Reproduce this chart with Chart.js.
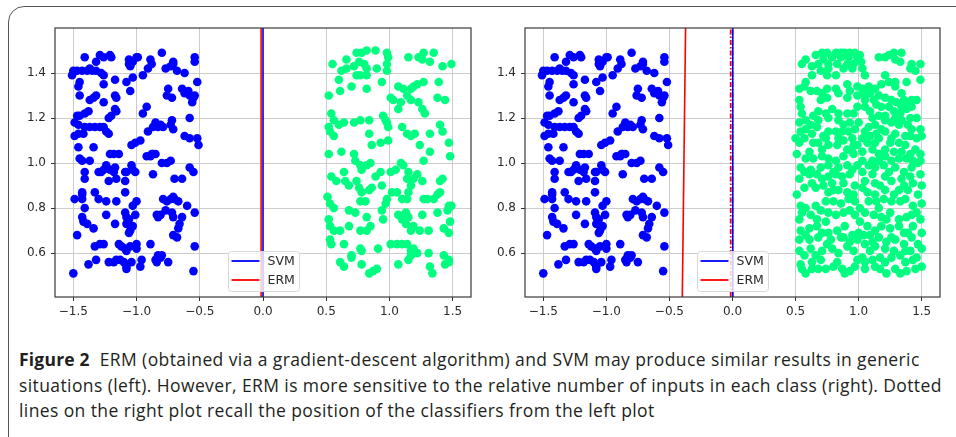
<!DOCTYPE html>
<html><head><meta charset="utf-8">
<script src="https://cdn.jsdelivr.net/npm/chart.js@4"></script>
<style>
html,body{margin:0;padding:0;background:#fff;width:956px;height:437px;overflow:hidden;position:relative}
#frame{position:absolute;left:8px;top:6px;width:1000px;height:470px;border:1.5px solid #555;border-radius:16px;box-sizing:border-box}
.plot{position:absolute;top:0}
#c1{left:0}
#c2{left:476px}
#cap{position:absolute;left:19px;top:347px;font-family:"Open Sans",sans-serif;font-size:17.5px;letter-spacing:0.4px;line-height:25.5px;color:#231f20;white-space:nowrap}
#cap b{font-weight:700;letter-spacing:0.2px}
</style></head>
<body>
<div id="frame"></div>
<canvas id="c1" class="plot" width="478" height="330"></canvas>
<canvas id="c2" class="plot" width="470" height="330"></canvas>
<div id="cap"><b>Figure 2</b>&nbsp; ERM (obtained via a gradient-descent algorithm) and SVM may produce similar results in generic<br>situations (left). However, ERM is more sensitive to the relative number of inputs in each class (right). Dotted<br>lines on the right plot recall the position of the classifiers from the left plot</div>
<script>
// ---- axes ----
const xRange = [-1.645, 1.645];
const yRange = [0.405, 1.600];
const xTickValues = [-1.5, -1.0, -0.5, 0.0, 0.5, 1.0, 1.5];
const xTickLabels = ['\u22121.5', '\u22121.0', '\u22120.5', '0.0', '0.5', '1.0', '1.5'];
const yTickValues = [0.6, 0.8, 1.0, 1.2, 1.4];
const yTickLabels = ['0.6', '0.8', '1.0', '1.2', '1.4'];
const legendLabels = ['SVM', 'ERM'];

// ---- classifiers (x positions of the separating lines) ----
const svmLeftX = 0.0;
const ermLeftX = -0.015;
const svmRightX = 0.002;
const ermRightX = [-0.398, -0.372]; // at bottom, at top of the axis

// ---- class -1 (blue): same points in both plots ----
const blueClass = [
[-1.41,1.47],[-1.29,1.48],[-1.26,1.47],[-1.21,1.48],[-1.20,1.47],[-1.32,1.45],[-1.37,1.42],[-1.50,1.41],
[-1.51,1.39],[-1.47,1.41],[-1.43,1.41],[-1.39,1.41],[-1.35,1.41],[-1.32,1.41],[-1.28,1.40],[-1.26,1.39],
[-1.06,1.46],[-1.05,1.43],[-1.03,1.45],[-1.00,1.47],[-1.06,1.44],[-0.99,1.47],[-0.89,1.46],[-0.88,1.44],
[-0.91,1.42],[-0.95,1.39],[-0.80,1.49],[-0.77,1.42],[-0.73,1.43],[-0.71,1.44],[-0.68,1.41],[-0.71,1.45],
[-0.54,1.47],[-0.54,1.45],[-0.62,1.40],[-0.52,1.36],[-1.45,1.36],[-1.46,1.34],[-1.45,1.30],[-1.34,1.29],
[-1.37,1.28],[-1.32,1.30],[-1.26,1.35],[-1.17,1.37],[-1.08,1.36],[-1.05,1.32],[-1.03,1.38],[-0.75,1.33],
[-0.76,1.30],[-0.72,1.29],[-0.64,1.33],[-0.62,1.31],[-0.59,1.32],[-0.58,1.30],[-0.55,1.29],[-0.56,1.27],
[-0.54,1.30],[-1.17,1.30],[-1.16,1.29],[-1.26,1.27],[-0.92,1.25],[-0.95,1.22],[-1.47,1.21],[-1.45,1.21],
[-1.41,1.22],[-1.38,1.23],[-1.22,1.20],[-1.20,1.21],[-1.17,1.24],[-1.16,1.23],[-0.58,1.20],[-1.46,1.17],
[-1.49,1.18],[-1.41,1.16],[-1.37,1.16],[-1.33,1.16],[-1.29,1.16],[-1.26,1.16],[-1.24,1.14],[-1.22,1.13],
[-1.42,1.13],[-1.46,1.13],[-1.49,1.12],[-0.85,1.18],[-0.83,1.16],[-0.81,1.17],[-0.79,1.16],[-0.73,1.17],
[-0.72,1.19],[-0.71,1.15],[-0.91,1.14],[-0.87,1.16],[-0.62,1.12],[-0.58,1.11],[-0.52,1.11],[-0.51,1.08],
[-1.46,1.07],[-1.45,1.02],[-1.43,1.01],[-1.37,1.01],[-1.34,1.07],[-1.04,1.08],[-1.01,1.09],[-0.97,1.10],
[-0.88,1.04],[-0.89,1.03],[-0.87,1.04],[-0.92,1.03],[-0.85,1.04],[-1.21,1.04],[-1.18,1.04],[-1.14,1.04],
[-0.80,1.00],[-0.76,1.00],[-0.73,1.01],[-1.41,0.96],[-1.41,0.93],[-1.30,0.96],[-1.28,0.96],[-1.26,0.97],
[-1.24,0.99],[-1.21,0.97],[-1.18,0.96],[-1.17,0.98],[-1.09,0.96],[-1.08,0.96],[-1.04,0.99],[-1.03,0.97],
[-1.01,0.96],[-1.16,0.93],[-1.22,0.92],[-1.09,0.92],[-0.87,0.95],[-0.70,0.93],[-0.64,0.93],[-0.58,0.98],
[-0.55,0.96],[-1.43,0.87],[-1.43,0.86],[-1.33,0.87],[-1.49,0.84],[-1.43,0.84],[-1.41,0.80],[-1.30,0.84],
[-1.24,0.83],[-1.16,0.83],[-1.09,0.87],[-1.00,0.83],[-1.03,0.81],[-0.79,0.84],[-0.76,0.83],[-0.73,0.84],
[-0.71,0.85],[-0.70,0.84],[-0.67,0.83],[-0.77,0.79],[-0.60,0.81],[-1.24,0.77],[-1.43,0.76],[-1.42,0.74],
[-1.39,0.73],[-1.34,0.71],[-1.17,0.73],[-1.09,0.78],[-1.08,0.76],[-1.06,0.75],[-1.08,0.73],[-1.05,0.70],
[-1.06,0.69],[-1.03,0.72],[-1.01,0.77],[-0.84,0.77],[-0.83,0.76],[-0.81,0.77],[-0.72,0.78],[-0.71,0.76],
[-0.67,0.71],[-0.66,0.73],[-0.64,0.76],[-0.54,0.78],[-1.47,0.68],[-1.33,0.63],[-1.29,0.64],[-1.26,0.64],
[-1.14,0.64],[-1.12,0.63],[-1.09,0.62],[-1.08,0.61],[-1.05,0.63],[-1.00,0.64],[-1.00,0.62],[-0.89,0.64],
[-0.68,0.67],[-0.71,0.68],[-0.54,0.63],[-1.38,0.55],[-1.32,0.57],[-1.22,0.56],[-1.18,0.56],[-1.16,0.57],
[-1.13,0.57],[-1.10,0.56],[-1.08,0.54],[-1.08,0.53],[-1.04,0.56],[-0.97,0.54],[-0.96,0.57],[-0.85,0.57],
[-0.84,0.56],[-0.81,0.58],[-0.80,0.59],[-0.83,0.59],[-0.75,0.56],[-1.50,0.51],[-0.55,0.52]
];

// ---- class +1 (green), left plot ----
const greenLeft = [
[0.55,1.44],[0.66,1.46],[0.62,1.41],[0.66,1.42],[0.72,1.43],[0.76,1.45],[0.74,1.49],[0.78,1.49],
[0.82,1.50],[0.89,1.50],[0.98,1.49],[0.99,1.47],[0.98,1.44],[0.98,1.41],[0.90,1.42],[0.82,1.42],
[0.80,1.44],[0.77,1.39],[0.74,1.39],[0.82,1.39],[0.94,1.36],[1.15,1.47],[1.23,1.47],[1.27,1.49],
[1.26,1.46],[1.32,1.45],[1.35,1.49],[1.42,1.43],[1.49,1.44],[0.60,1.37],[0.61,1.32],[0.52,1.30],
[0.70,1.34],[0.82,1.33],[1.01,1.29],[1.07,1.34],[1.11,1.33],[1.14,1.30],[1.17,1.33],[1.19,1.34],
[1.22,1.35],[1.27,1.36],[1.17,1.28],[1.23,1.27],[1.26,1.24],[1.28,1.22],[1.38,1.29],[1.44,1.28],
[1.39,1.36],[1.03,1.28],[1.09,1.27],[1.07,1.24],[0.54,1.22],[0.56,1.19],[0.52,1.16],[0.53,1.14],
[0.56,1.12],[0.60,1.17],[0.64,1.18],[0.72,1.18],[0.77,1.19],[0.84,1.19],[0.95,1.21],[0.98,1.18],
[0.99,1.16],[0.97,1.19],[1.10,1.16],[1.14,1.13],[1.17,1.12],[1.20,1.13],[1.24,1.08],[1.32,1.13],
[1.40,1.17],[1.42,1.14],[1.47,1.09],[1.48,1.03],[1.32,1.05],[1.27,1.01],[0.99,1.10],[0.93,1.09],
[0.86,1.08],[0.84,1.13],[0.52,1.04],[0.62,1.05],[0.72,1.04],[0.73,1.01],[0.77,0.99],[0.78,0.97],
[0.82,0.99],[0.85,1.00],[0.89,0.94],[0.93,0.96],[1.01,0.96],[1.05,0.97],[1.09,1.00],[1.11,0.99],
[1.15,0.96],[1.19,0.93],[1.22,0.95],[1.26,0.92],[1.14,0.93],[0.54,0.94],[0.64,0.96],[0.65,0.92],
[0.58,0.92],[0.68,0.90],[0.74,0.92],[0.76,0.89],[0.78,0.87],[0.84,0.88],[0.86,0.89],[0.94,0.90],
[0.98,0.84],[1.02,0.87],[1.06,0.87],[1.10,0.84],[1.14,0.84],[1.15,0.87],[1.17,0.90],[1.27,0.84],
[1.30,0.84],[1.35,0.84],[1.38,0.86],[1.40,0.87],[1.40,0.92],[1.42,0.93],[1.47,0.81],[1.49,0.81],
[1.46,0.79],[0.51,0.85],[0.53,0.82],[0.56,0.80],[0.68,0.79],[0.73,0.78],[0.77,0.83],[0.81,0.83],
[0.82,0.76],[0.94,0.79],[0.97,0.82],[1.07,0.77],[1.10,0.75],[1.13,0.78],[1.15,0.76],[1.26,0.77],
[1.38,0.78],[0.52,0.75],[0.53,0.72],[0.56,0.70],[0.61,0.70],[0.68,0.72],[0.77,0.70],[0.82,0.70],
[0.85,0.72],[0.95,0.75],[1.13,0.73],[1.17,0.70],[1.19,0.72],[1.24,0.70],[1.31,0.70],[1.43,0.71],
[1.47,0.69],[1.48,0.74],[0.53,0.66],[0.54,0.64],[0.64,0.64],[0.70,0.59],[0.77,0.62],[0.78,0.61],
[0.91,0.62],[1.01,0.64],[1.06,0.64],[1.10,0.64],[1.14,0.64],[1.17,0.61],[1.19,0.62],[1.22,0.60],
[1.31,0.60],[1.43,0.59],[1.47,0.57],[0.61,0.56],[0.64,0.54],[0.70,0.58],[0.78,0.55],[0.84,0.51],
[0.87,0.52],[0.90,0.53],[1.07,0.55],[1.15,0.57],[1.17,0.59],[1.32,0.54],[1.34,0.51],[1.44,0.55],
[1.47,0.56]
];

// ---- class +1 (green), right plot: many more inputs ----
const greenRight = [
[0.66,1.48],[0.75,1.49],[0.82,1.49],[0.89,1.49],[0.97,1.49],[0.72,1.46],[0.79,1.47],[0.86,1.47],
[0.92,1.47],[0.99,1.47],[1.16,1.47],[1.24,1.48],[1.28,1.49],[1.34,1.49],[1.21,1.47],[1.29,1.46],
[1.33,1.45],[0.55,1.44],[0.63,1.43],[0.68,1.44],[0.76,1.44],[0.83,1.44],[0.91,1.44],[0.96,1.44],
[1.03,1.42],[0.70,1.41],[0.76,1.42],[0.88,1.42],[0.95,1.42],[1.42,1.44],[1.49,1.44],[1.45,1.41],
[1.41,1.42],[0.63,1.39],[0.75,1.39],[0.82,1.39],[1.05,1.39],[1.21,1.39],[1.29,1.36],[1.38,1.36],
[1.49,1.37],[0.53,1.33],[0.62,1.32],[0.75,1.33],[0.82,1.33],[0.91,1.35],[0.99,1.34],[1.08,1.34],
[1.13,1.33],[1.18,1.35],[1.24,1.36],[1.29,1.34],[1.09,1.31],[1.34,1.31],[1.05,1.30],[0.70,1.28],
[0.75,1.29],[0.91,1.29],[0.99,1.30],[1.05,1.28],[1.12,1.28],[1.16,1.30],[1.21,1.29],[1.26,1.28],
[1.30,1.27],[1.36,1.28],[1.42,1.28],[1.46,1.28],[0.53,1.28],[0.54,1.25],[0.55,1.22],[0.68,1.23],
[0.84,1.22],[0.91,1.22],[0.96,1.22],[1.05,1.25],[1.09,1.23],[1.16,1.21],[1.21,1.21],[1.28,1.23],
[1.34,1.25],[1.38,1.24],[1.33,1.22],[1.41,1.20],[1.29,1.20],[0.53,1.18],[0.58,1.19],[0.62,1.17],
[0.68,1.19],[0.76,1.20],[0.84,1.19],[0.88,1.17],[0.93,1.18],[1.08,1.16],[1.13,1.17],[1.18,1.15],
[1.26,1.18],[1.34,1.19],[1.39,1.17],[1.42,1.15],[1.49,1.15],[1.00,1.18],[0.54,1.14],[0.63,1.13],
[0.72,1.12],[0.82,1.14],[0.87,1.14],[0.92,1.14],[0.95,1.11],[0.84,1.11],[1.09,1.12],[1.14,1.13],
[1.21,1.14],[1.29,1.13],[1.37,1.12],[1.46,1.11],[0.50,1.11],[0.53,1.09],[0.61,1.05],[0.68,1.09],
[0.71,1.06],[0.76,1.08],[0.83,1.08],[0.91,1.06],[0.99,1.08],[1.07,1.09],[1.13,1.09],[1.21,1.06],
[1.25,1.09],[1.32,1.09],[1.37,1.08],[1.45,1.06],[1.49,1.04],[1.34,1.05],[1.16,1.04],[1.03,1.05],
[0.95,1.05],[0.64,1.02],[0.76,1.02],[0.88,1.03],[0.96,1.04],[1.21,1.03],[1.32,1.02],[0.82,1.01],
[1.11,1.01],[1.43,1.01],
[0.58,1.46],[0.71,1.49],[0.86,1.49],[0.93,1.49],[1.01,1.48],[1.02,1.45],[0.58,1.36],[0.57,1.34],
[0.67,1.32],[0.71,1.31],[0.84,1.31],[0.93,1.32],[1.03,1.33],[1.04,1.31],[1.14,1.26],[1.18,1.25],
[1.24,1.25],[1.37,1.26],[1.42,1.25],[0.64,1.21],[0.74,1.22],[0.79,1.24],[0.99,1.25],[1.11,1.20],
[1.21,1.19],[1.32,1.17],[1.46,1.20],[0.58,1.15],[0.67,1.16],[0.76,1.14],[0.97,1.15],[1.05,1.14],
[1.03,1.11],[1.16,1.11],[1.26,1.11],[1.41,1.12],[1.50,1.12],[0.57,1.11],[0.64,1.09],[0.74,1.11],
[0.88,1.10],[0.96,1.08],[1.11,1.06],[1.28,1.05],[1.41,1.04],[0.58,1.02],[0.71,1.03],[1.03,1.01],
[1.16,1.01],[1.26,1.01],[1.38,1.02],[1.49,1.01],[0.51,1.04],
[0.54,0.98],[0.62,0.97],[0.76,0.99],[0.84,0.98],[0.91,0.99],[0.99,0.99],[1.08,0.99],[1.20,0.99],
[1.29,0.98],[1.42,0.98],[1.47,1.00],[0.53,0.93],[0.61,0.95],[0.67,0.95],[0.63,0.91],[0.71,0.93],
[0.76,0.94],[0.82,0.95],[0.87,0.94],[0.93,0.95],[0.79,0.91],[0.88,0.91],[1.03,0.96],[1.11,0.95],
[1.05,0.92],[1.13,0.91],[1.21,0.94],[1.26,0.92],[1.34,0.93],[1.41,0.94],[1.43,0.91],[0.51,0.86],
[0.66,0.89],[0.72,0.90],[0.76,0.87],[0.84,0.88],[0.91,0.87],[0.96,0.86],[1.03,0.89],[1.07,0.87],
[1.13,0.86],[1.21,0.88],[1.28,0.86],[1.32,0.88],[1.39,0.88],[1.47,0.86],[0.54,0.81],[0.58,0.80],
[0.66,0.81],[0.74,0.83],[0.80,0.83],[0.86,0.82],[0.92,0.84],[0.97,0.83],[1.01,0.80],[1.08,0.83],
[1.14,0.83],[1.20,0.84],[1.26,0.83],[1.33,0.83],[1.37,0.84],[1.43,0.81],[1.50,0.82],[0.53,0.75],
[0.62,0.77],[0.70,0.79],[0.76,0.78],[0.82,0.77],[0.88,0.78],[0.97,0.77],[1.05,0.78],[1.12,0.77],
[1.18,0.76],[1.25,0.78],[1.32,0.75],[1.38,0.76],[1.46,0.78],[1.49,0.75],[0.54,0.70],[0.61,0.71],
[0.67,0.72],[0.76,0.69],[0.83,0.70],[0.89,0.72],[0.95,0.68],[1.00,0.69],[1.07,0.72],[1.13,0.70],
[1.18,0.72],[1.25,0.71],[1.32,0.72],[1.36,0.69],[1.43,0.72],[1.50,0.69],[0.53,0.66],[0.61,0.66],
[0.68,0.67],[0.78,0.66],[0.88,0.67],[0.93,0.65],[0.99,0.66],[1.05,0.64],[1.11,0.65],[1.16,0.67],
[1.22,0.65],[1.29,0.66],[1.36,0.64],[1.42,0.67],[1.47,0.64],[0.53,0.61],[0.62,0.62],[0.71,0.61],
[0.79,0.62],[0.91,0.63],[1.03,0.58],[1.09,0.61],[1.17,0.58],[1.21,0.62],[1.28,0.61],[1.33,0.59],
[1.41,0.61],[1.46,0.58],[0.54,0.55],[0.55,0.53],[0.63,0.56],[0.63,0.53],[0.70,0.57],[0.74,0.53],
[0.80,0.54],[0.87,0.53],[0.89,0.51],[1.05,0.56],[1.05,0.53],[1.13,0.54],[1.21,0.56],[1.22,0.51],
[1.29,0.53],[1.33,0.51],[1.37,0.56],[1.43,0.57],[1.45,0.53],
[0.57,0.96],[0.70,0.98],[0.80,0.96],[0.95,0.97],[1.13,0.98],[1.24,0.96],[1.36,0.96],[1.49,0.95],
[0.57,0.89],[0.80,0.88],[0.97,0.90],[1.17,0.90],[1.36,0.90],[1.50,0.90],[0.55,0.78],[0.67,0.75],
[0.74,0.74],[0.93,0.79],[1.01,0.74],[1.16,0.80],[1.22,0.75],[1.42,0.77],[0.58,0.68],[0.71,0.69],
[0.86,0.67],[1.04,0.68],[1.09,0.68],[1.26,0.67],[1.39,0.69],[0.57,0.59],[0.66,0.59],[0.75,0.64],
[0.84,0.60],[0.96,0.61],[0.99,0.57],[1.13,0.63],[1.26,0.58],[1.37,0.61],[1.50,0.62],[0.68,0.53],
[0.83,0.56],[0.97,0.54],[1.11,0.57],[1.17,0.53],[1.50,0.54],[0.58,0.51],[0.93,0.52],[1.38,0.52]
];

// ---- colours ----
const BLUE = '#0000ff', GREEN = '#00ff80', RED = '#ff0000';

function pts(arr){ return arr.map(p => ({x: p[0], y: p[1]})); }
function vline(xBottom, xTop){ return [{x: xBottom, y: yRange[0]}, {x: xTop, y: yRange[1]}]; }
function scatterDs(arr, color){
  return {data: pts(arr), backgroundColor: color, borderWidth: 0, pointRadius: 4.3, pointHoverRadius: 4.3};
}
function lineDs(data, color, dash){
  return {data, showLine: true, borderColor: color, borderWidth: 1.6, pointRadius: 0, borderDash: dash || [], fill: false};
}

const tickFont = {family: 'DejaVu Sans', size: 12};
function scales(yWidth){
  return {
    x: {type: 'linear', min: xRange[0], max: xRange[1],
      afterBuildTicks: s => { s.ticks = xTickValues.map(v => ({value: v})); },
      afterFit: s => { s.height = 33; },
      ticks: {callback: (v, i) => xTickLabels[i], font: tickFont, color: '#2a2a2a', padding: 4, maxRotation: 0, autoSkip: false},
      grid: {color: '#cdcdcd', lineWidth: 1, tickColor: '#333', tickLength: 4},
      border: {display: false}},
    y: {type: 'linear', min: yRange[0], max: yRange[1],
      afterBuildTicks: s => { s.ticks = yTickValues.map(v => ({value: v})); },
      afterFit: s => { s.width = yWidth; },
      ticks: {callback: (v, i) => yTickLabels[i], font: tickFont, color: '#2a2a2a', padding: 5, autoSkip: false},
      grid: {color: '#cdcdcd', lineWidth: 1, tickColor: '#333', tickLength: 4},
      border: {display: false}}
  };
}

const legendColors = [BLUE, RED];
const mplFrame = {
  id: 'mplFrame',
  afterDraw(chart){
    const ctx = chart.ctx, a = chart.chartArea;
    ctx.save();
    ctx.strokeStyle = '#3a3a3a'; ctx.lineWidth = 1.2;
    ctx.strokeRect(a.left, a.top, a.right - a.left, a.bottom - a.top);
    // legend (lower center)
    const w = 71, h = 40;
    const x = Math.round((a.left + a.right) / 2 - w / 2) + 0.5, y = Math.round(a.bottom - 6 - h) + 0.5;
    ctx.beginPath();
    if (ctx.roundRect) ctx.roundRect(x, y, w, h, 3); else ctx.rect(x, y, w, h);
    ctx.fillStyle = 'rgba(255,255,255,0.8)'; ctx.fill();
    ctx.strokeStyle = '#d8d8d8'; ctx.lineWidth = 1; ctx.stroke();
    ctx.font = '12.5px "DejaVu Sans"'; ctx.textBaseline = 'middle'; ctx.textAlign = 'left';
    legendLabels.forEach((lab, i) => {
      const ly = y + 9.5 + i * 19;
      ctx.beginPath(); ctx.moveTo(x + 3, ly); ctx.lineTo(x + 31, ly);
      ctx.strokeStyle = legendColors[i]; ctx.lineWidth = 1.8; ctx.stroke();
      ctx.fillStyle = '#2a2a2a'; ctx.fillText(lab, x + 39, ly + 0.5);
    });
    ctx.restore();
  }
};

const common = (yWidth, padRight) => ({
  responsive: false, animation: false, devicePixelRatio: 1,
  layout: {padding: {top: 28, right: padRight, left: 0, bottom: 0}},
  plugins: {legend: {display: false}, tooltip: {enabled: false}},
  events: [],
  scales: scales(yWidth)
});

new Chart(document.getElementById('c1'), {
  type: 'scatter',
  data: {datasets: [
    lineDs(vline(ermLeftX, ermLeftX), RED),
    lineDs(vline(svmLeftX, svmLeftX), BLUE),
    scatterDs(blueClass, BLUE),
    scatterDs(greenLeft, GREEN)
  ]},
  options: common(55, 7),
  plugins: [mplFrame]
});

new Chart(document.getElementById('c2'), {
  type: 'scatter',
  data: {datasets: [
    lineDs(vline(ermLeftX, ermLeftX), RED, [5, 2, 1.5, 2]),
    lineDs(vline(ermRightX[0], ermRightX[1]), RED),
    lineDs(vline(svmRightX, svmRightX), BLUE),
    lineDs(vline(svmLeftX, svmLeftX), BLUE, [5, 2, 1.5, 2]),
    scatterDs(blueClass, BLUE),
    scatterDs(greenRight, GREEN)
  ]},
  options: common(49, 6),
  plugins: [mplFrame]
});
</script>
</body></html>
